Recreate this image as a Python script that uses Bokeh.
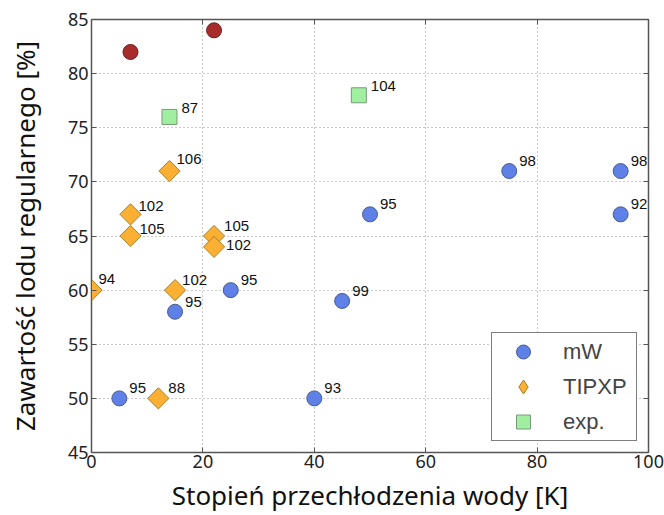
import math
from bokeh.plotting import figure
from bokeh.models import ColumnDataSource, LinearAxis, Legend, LegendItem, FixedTicker
from bokeh.core.properties import value
from bokeh.embed import file_html
from bokeh.resources import INLINE

# ---- data ----
mw_x = [5, 15, 25, 40, 45, 50, 75, 95, 95]
mw_y = [50, 58, 60, 50, 59, 67, 71, 71, 67]
mw_lab = ["95", "95", "95", "93", "99", "95", "98", "98", "92"]

tip_x = [0, 7, 7, 12, 14, 15, 22, 22]
tip_y = [60, 67, 65, 50, 71, 60, 65, 64]
tip_lab = ["94", "102", "105", "88", "106", "102", "105", "102"]

exp_x = [14, 48]
exp_y = [76, 78]
exp_lab = ["87", "104"]

red_x = [7, 22]
red_y = [82, 84]

x_ticks = [0, 20, 40, 60, 80, 100]
y_ticks = [45, 50, 55, 60, 65, 70, 75, 80, 85]

# ---- style ----
FONT = "Noto Sans"
LFONT = "Liberation Sans"
BLUE, BLUE_E = "#5f80e6", "#4a5c8c"
ORANGE, ORANGE_E = "#fbb034", "#a8802c"
GREEN, GREEN_E = "#a0eea0", "#7a9a7a"
RED, RED_E = "#a82c2c", "#6a2020"

p = figure(width=664, height=515, x_range=(0, 100), y_range=(45, 85),
           output_backend="svg", toolbar_location=None,
           min_border_left=91, min_border_right=16, min_border_top=19, min_border_bottom=63)

p.outline_line_color = "#555555"
p.outline_line_width = 1.5
p.background_fill_color = "white"
p.border_fill_color = "white"

for ax in (p.xaxis[0], p.yaxis[0]):
    ax.major_label_text_font = FONT
    ax.major_label_text_font_size = "18px"
    ax.major_label_text_color = "#222222"
    ax.axis_label_text_font = FONT
    ax.axis_label_text_font_size = "26px"
    ax.axis_label_text_font_style = "normal"
    ax.axis_label_text_color = "#111111"
    ax.major_tick_in = 5
    ax.major_tick_out = 0
    ax.minor_tick_line_color = None
    ax.axis_line_color = "#555555"
    ax.major_tick_line_color = "#555555"

p.xaxis[0].ticker = FixedTicker(ticks=x_ticks)
p.yaxis[0].ticker = FixedTicker(ticks=y_ticks)
p.xaxis[0].axis_label = "Stopień przechłodzenia wody [K]"
p.yaxis[0].axis_label = "Zawartość lodu regularnego [%]"
p.xaxis[0].major_label_standoff = 2
p.xaxis[0].axis_label_standoff = 6
p.yaxis[0].major_label_standoff = 3
p.yaxis[0].axis_label_standoff = 22

for loc, ticks in (("above", x_ticks), ("right", y_ticks)):
    ax = LinearAxis(ticker=FixedTicker(ticks=ticks), major_label_text_font_size="0px",
                    major_label_text_color=None,
                    major_label_overrides={t: "" for t in ticks},
                    major_label_standoff=0, major_tick_in=5, major_tick_out=0,
                    minor_tick_line_color=None, axis_line_color="#555555",
                    major_tick_line_color="#555555")
    p.add_layout(ax, loc)

p.xgrid.ticker = FixedTicker(ticks=x_ticks)
p.ygrid.ticker = FixedTicker(ticks=y_ticks)
for g in (p.xgrid[0], p.ygrid[0]):
    g.grid_line_dash = "1 3"
    g.grid_line_color = "#999999"
    g.grid_line_width = 1.2

src_mw = ColumnDataSource(dict(x=mw_x, y=mw_y, t=mw_lab))
src_tip = ColumnDataSource(dict(x=tip_x, y=tip_y, t=tip_lab))
src_exp = ColumnDataSource(dict(x=exp_x, y=exp_y, t=exp_lab))

r_red = p.scatter(red_x, red_y, marker="circle", size=15, fill_color=RED, line_color=RED_E, line_width=1)
r_mw = p.scatter("x", "y", source=src_mw, marker="circle", size=15, fill_color=BLUE, line_color=BLUE_E, line_width=1)
r_tip = p.scatter("x", "y", source=src_tip, marker="square", angle=math.pi / 4, size=15,
                  fill_color=ORANGE, line_color=ORANGE_E, line_width=1)
r_exp = p.scatter("x", "y", source=src_exp, marker="square", size=15, fill_color=GREEN, line_color=GREEN_E, line_width=1)
# legend swatch for TIPXP (NaN point, legend only)
r_tip_key = p.scatter(x=[float("nan")], y=[float("nan")], marker="diamond", size=15,
                      fill_color=ORANGE, line_color=ORANGE_E, line_width=1)

# label offsets (pixels)
src_tip.data["dx"] = [7, 8, 9, 10, 7, 7, 10, 12]
src_tip.data["dy"] = [-11, -8, -7, -10, -12, -10, -10, -2]

common = dict(text_font=value(LFONT), text_font_size="15px", text_color="#111111",
              text_baseline="middle", text_align="left")
p.text("x", "y", text="t", source=src_mw, x_offset=10, y_offset=-10, **common)
p.text("x", "y", text="t", source=src_tip, x_offset="dx", y_offset="dy", **common)
p.text("x", "y", text="t", source=src_exp, x_offset=12, y_offset=-9, **common)

legend = Legend(items=[LegendItem(label="mW", renderers=[r_mw]),
                       LegendItem(label="TIPXP", renderers=[r_tip_key]),
                       LegendItem(label="exp.", renderers=[r_exp])],
                location="bottom_right", margin=11, padding=1, spacing=0,
                glyph_width=60, glyph_height=35, label_height=35, label_width=72,
                label_standoff=10, label_text_font=LFONT, label_text_font_size="22px",
                border_line_color="black", border_line_width=1.2,
                background_fill_color="white", background_fill_alpha=1)
p.add_layout(legend, "center")

open("out.html", "w").write(file_html(p, INLINE))
